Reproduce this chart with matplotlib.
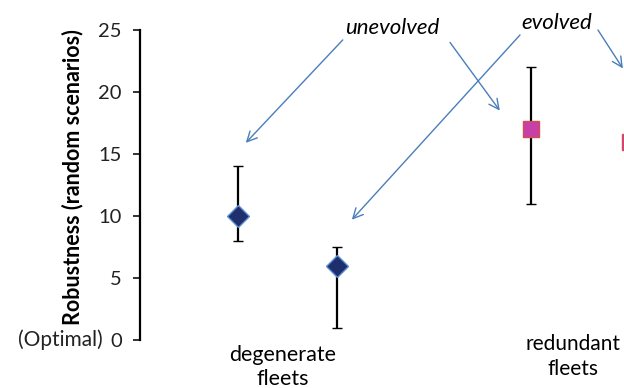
import matplotlib.pyplot as plt
import numpy as np

plt.rcParams['font.family'] = ['Lato', 'DejaVu Sans']

# Data
groups = ['degenerate\nfleets', 'redundant\nfleets']
unevolved = [10, 17]
unevolved_low = [8, 11]
unevolved_high = [14, 22]
evolved = [6, 16]
evolved_low = [1, 11]
evolved_high = [7.5, 21]
yticks = [0, 5, 10, 15, 20, 25]

x = np.arange(1, len(groups) + 1)
off = 0.17

fig = plt.figure(figsize=(6.24, 3.88), dpi=100)
# axes runs past the right edge, the reference is cropped there
ax = fig.add_axes([140 / 624, 48 / 388, 560 / 624, 310 / 388])
ax.set_xlim(0.497, 0.497 + 560 / 293)
ax.set_ylim(0, 25)

err_u = [np.subtract(unevolved, unevolved_low), np.subtract(unevolved_high, unevolved)]
err_e = [np.subtract(evolved, evolved_low), np.subtract(evolved_high, evolved)]

ax.errorbar(x - off, unevolved, yerr=err_u, fmt='none', ecolor='black', elinewidth=1.6,
            capsize=3.5, capthick=1, zorder=2)
ax.errorbar(x + off, evolved, yerr=err_e, fmt='none', ecolor='black', elinewidth=1.6,
            capsize=3.5, capthick=1, zorder=2)

# degenerate fleets -> diamonds, redundant fleets -> squares
ax.plot([x[0] - off, x[0] + off], [unevolved[0], evolved[0]], 'D', ms=11.5,
        color='#1f2f6e', mec='#5b8fd0', mew=1, zorder=3, linestyle='none')
ax.plot([x[1] - off, x[1] + off], [unevolved[1], evolved[1]], 's', ms=11,
        color='#c83fa8', mec='#d0504d', mew=1, zorder=3, linestyle='none')

# axes styling
for s in ['top', 'right', 'bottom']:
    ax.spines[s].set_visible(False)
ax.spines['left'].set_linewidth(1.6)
ax.set_yticks(yticks)
ax.set_xticks([])
ax.tick_params(axis='y', direction='out', length=5, width=1.3, labelsize=14.5, pad=8, colors='#222222')
ax.set_ylabel('Robustness (random scenarios)', fontsize=15.5, fontweight='bold')
ax.yaxis.set_label_coords(-0.102, 0.524)
ax.text(-0.066, 0, '(Optimal)', transform=ax.get_yaxis_transform(), fontsize=15,
        ha='right', va='center', color='#222222')

# group labels
ax.text(x[0] - 0.015, -0.4, groups[0], ha='center', va='top', fontsize=15.5, linespacing=1.25)
ax.text(x[1] - 0.025, 0.45, groups[1], ha='center', va='top', fontsize=15, linespacing=1.3)

# annotations
arrow = dict(arrowstyle='->', color='#4a7ebb', lw=1, mutation_scale=18, shrinkA=0, shrinkB=0)
ax.text(1.358, 25.2, 'unevolved', fontsize=16, style='italic', ha='center', va='center')
ax.text(1.92, 25.6, 'evolved', fontsize=16, style='italic', ha='center', va='center')
ax.annotate('', xy=(0.858, 15.9), xytext=(1.189, 24.2), arrowprops=arrow, annotation_clip=False)
ax.annotate('', xy=(1.725, 18.5), xytext=(1.555, 24.0), arrowprops=arrow, annotation_clip=False)
ax.annotate('', xy=(1.220, 9.7), xytext=(1.794, 24.6), arrowprops=arrow, annotation_clip=False)
ax.annotate('', xy=(2.145, 21.9), xytext=(2.06, 25.0), arrowprops=arrow, annotation_clip=False)

plt.savefig('out.png', dpi=100)
